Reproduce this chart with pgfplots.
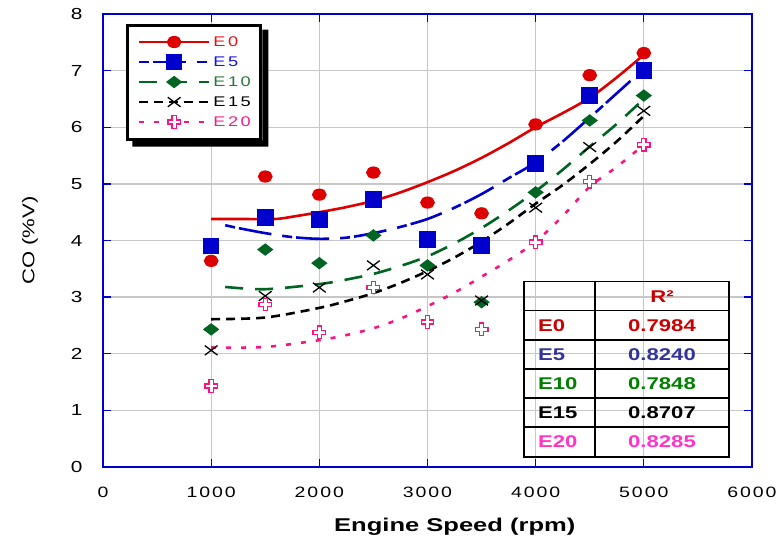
\documentclass[border=0pt]{standalone}
\usepackage{fontspec}
\setmainfont{Liberation Sans}[FakeStretch=1.3]
\newfontfamily\spaced{Liberation Sans}[FakeStretch=1.3, LetterSpace=18]
\newfontfamily\tickfont{Liberation Sans}[FakeStretch=1.3, LetterSpace=13]
\newfontfamily\labfont{Liberation Sans}[FakeStretch=1.38]
\usepackage{pgfplots}
\pgfplotsset{compat=1.18}

\definecolor{axisblue}{RGB}{0,0,204}
\definecolor{cred}{RGB}{221,0,0}
\definecolor{cblue}{RGB}{0,0,204}
\definecolor{cgreen}{RGB}{0,100,35}
\definecolor{cpink}{RGB}{250,20,130}
\definecolor{lred}{RGB}{232,20,20}
\definecolor{lblue}{RGB}{20,20,225}
\definecolor{lgreen}{RGB}{40,120,60}
\definecolor{lpink}{RGB}{240,30,140}
\definecolor{tred}{RGB}{204,0,0}
\definecolor{tblue}{RGB}{51,51,153}
\definecolor{tgreen}{RGB}{0,128,0}
\definecolor{tpink}{RGB}{255,51,204}

% outlined plus
\pgfdeclareplotmark{oplus}{%
  \pgfpathmoveto{\pgfqpoint{-0.33\pgfplotmarksize}{\pgfplotmarksize}}%
  \pgfpathlineto{\pgfqpoint{0.33\pgfplotmarksize}{\pgfplotmarksize}}%
  \pgfpathlineto{\pgfqpoint{0.33\pgfplotmarksize}{0.33\pgfplotmarksize}}%
  \pgfpathlineto{\pgfqpoint{\pgfplotmarksize}{0.33\pgfplotmarksize}}%
  \pgfpathlineto{\pgfqpoint{\pgfplotmarksize}{-0.33\pgfplotmarksize}}%
  \pgfpathlineto{\pgfqpoint{0.33\pgfplotmarksize}{-0.33\pgfplotmarksize}}%
  \pgfpathlineto{\pgfqpoint{0.33\pgfplotmarksize}{-\pgfplotmarksize}}%
  \pgfpathlineto{\pgfqpoint{-0.33\pgfplotmarksize}{-\pgfplotmarksize}}%
  \pgfpathlineto{\pgfqpoint{-0.33\pgfplotmarksize}{-0.33\pgfplotmarksize}}%
  \pgfpathlineto{\pgfqpoint{-\pgfplotmarksize}{-0.33\pgfplotmarksize}}%
  \pgfpathlineto{\pgfqpoint{-\pgfplotmarksize}{0.33\pgfplotmarksize}}%
  \pgfpathlineto{\pgfqpoint{-0.33\pgfplotmarksize}{0.33\pgfplotmarksize}}%
  \pgfpathclose
  \pgfusepathqfillstroke
}

\pgfplotsset{
  sE0/.style={cred, solid, line width=2.6bp, mark=*, mark size=6bp, mark options={yscale=0.8, solid, fill=cred}},
  sE5/.style={cblue, line width=2.6bp, dash pattern=on 10bp off 4bp on 33bp off 11bp, mark=square*, mark size=7bp, mark options={solid, fill=cblue}},
  sE10/.style={cgreen, line width=2.6bp, dash pattern=on 18bp off 12bp, mark=diamond*, mark size=4.6bp, mark options={xscale=1.75, solid, fill=cgreen}},
  sE15/.style={black, line width=2.6bp, dash pattern=on 9bp off 6bp, mark=x, mark size=9bp, mark options={yscale=0.75, solid, line width=1.3bp}},
  sE20/.style={cpink, line width=2.6bp, dash pattern=on 5bp off 10bp, mark=oplus, mark size=6.3bp, mark options={solid, line width=1.3bp, fill=white, draw=cpink}},
}

\begin{document}
\begin{tikzpicture}
\path[use as bounding box] (-103bp,-82bp) rectangle (673bp,467bp);
\begin{axis}[
  scale only axis, width=649bp, height=453bp,
  xmin=0, xmax=6000, ymin=0, ymax=8,
  xtick={0,1000,...,6000}, ytick={0,1,...,8},
  axis line style={draw=axisblue, line width=1.3bp},
  tick style={draw=axisblue, line width=1.3bp},
  major tick length=8bp,
  tick align=inside,
  grid=major, grid style={draw=black!22, line width=1.3bp},
  /pgf/number format/assume math mode=true,
  /pgf/number format/1000 sep={},
  xticklabel style={font=\tickfont\fontsize{15bp}{18bp}\selectfont, yshift=-17bp},
  yticklabel style={font=\fontsize{16bp}{19bp}\selectfont, xshift=-17bp},
  xlabel={\labfont\bfseries\fontsize{18.5bp}{22bp}\selectfont Engine Speed (rpm)},
  ylabel={\fontsize{17bp}{20bp}\selectfont CO (\%V)},
  every axis x label/.style={at={(axis description cs:0.542,-0.1325)}, anchor=center},
  every axis y label/.style={at={(axis description cs:-0.1125,0.5)}, anchor=center, rotate=90},
  legend image code/.code={\draw[mark repeat=2, mark phase=2, #1] plot coordinates {(0bp,0bp) (35bp,0bp) (70bp,0bp)};},
  legend style={name=lgd, at={(0.036,0.979)}, anchor=north west, draw=black, line width=3bp, fill=white,
    font=\spaced\fontsize{14bp}{17bp}\selectfont, inner xsep=10bp, inner ysep=7bp,
    nodes={inner xsep=0pt, inner ysep=0pt, minimum height=20bp}, row sep=0pt, column sep=3bp, cells={anchor=west}},
]
\addlegendimage{sE0}
\addlegendentry{\textcolor{lred}{E0}}
\addlegendimage{sE5}
\addlegendentry{\textcolor{lblue}{E5}}
\addlegendimage{sE10}
\addlegendentry{\textcolor{lgreen}{E10}}
\addlegendimage{sE15}
\addlegendentry{\textcolor{black}{E15}}
\addlegendimage{sE20}
\addlegendentry{\textcolor{lpink}{E20}}

% trend lines
\addplot[sE0, mark=none, smooth, forget plot] coordinates {
  (1000,4.38) (1250,4.38) (1590,4.38) (1750,4.42) (2000,4.50) (2250,4.59)
  (2500,4.70) (2750,4.85) (3000,5.03) (3250,5.23) (3500,5.46) (3750,5.72)
  (4000,6.00) (4250,6.25) (4500,6.52) (4750,6.88) (5000,7.28)};
\addplot[sE5, mark=none, smooth, forget plot] coordinates {
  (1130,4.27) (1250,4.22) (1500,4.13) (1750,4.06) (2000,4.03) (2250,4.05)
  (2500,4.13) (2750,4.24) (3000,4.38) (3250,4.58) (3500,4.82) (3750,5.10)
  (4000,5.38) (4250,5.75) (4500,6.17) (4750,6.60) (5000,7.03)};
\addplot[sE10, mark=none, smooth, forget plot] coordinates {
  (1130,3.18) (1500,3.14) (2000,3.23) (2250,3.31) (2500,3.41) (2750,3.55)
  (3000,3.72) (3250,3.95) (3500,4.22) (3750,4.53) (4000,4.87) (4250,5.25)
  (4500,5.66) (4750,6.06) (5000,6.50)};
\addplot[sE15, mark=none, smooth, forget plot] coordinates {
  (1000,2.61) (1500,2.64) (2000,2.81) (2250,2.93) (2500,3.07) (2750,3.25)
  (3000,3.46) (3250,3.70) (3500,3.98) (3750,4.30) (4000,4.65) (4250,4.98)
  (4500,5.35) (4750,5.75) (5000,6.20)};
\addplot[sE20, mark=none, smooth, forget plot] coordinates {
  (1000,2.11) (1500,2.12) (2000,2.24) (2250,2.33) (2500,2.45) (2750,2.62)
  (3000,2.84) (3250,3.08) (3500,3.36) (3750,3.65) (4000,3.98) (4250,4.43)
  (4500,4.95) (4750,5.30) (5000,5.69)};

% measured points
\addplot[sE0, only marks, forget plot] coordinates {
  (1000,3.64) (1500,5.13) (2000,4.81) (2500,5.20) (3000,4.67) (3500,4.48)
  (4000,6.05) (4500,6.92) (5000,7.31)};
\addplot[sE5, only marks, forget plot] coordinates {
  (1000,3.90) (1500,4.41) (2000,4.37) (2500,4.72) (3000,4.02) (3500,3.91)
  (4000,5.36) (4500,6.56) (5000,7.00)};
\addplot[sE10, only marks, forget plot] coordinates {
  (1000,2.43) (1500,3.84) (2000,3.60) (2500,4.09) (3000,3.56) (3500,2.91)
  (4000,4.85) (4500,6.12) (5000,6.56)};
\addplot[sE15, only marks, forget plot] coordinates {
  (1000,2.06) (1500,3.02) (2000,3.17) (2500,3.56) (3000,3.40) (3500,2.94)
  (4000,4.58) (4500,5.65) (5000,6.29)};
\addplot[sE20, only marks, forget plot] coordinates {
  (1000,1.43) (1500,2.87) (2000,2.38) (2500,3.17) (3000,2.56) (3500,2.43)
  (4000,3.97) (4500,5.04) (5000,5.69)};
\end{axis}

% legend shadow (right and bottom strips)
\fill[black] ([shift={(6bp,-6bp)}]lgd.south west) -- ([shift={(6bp,-6bp)}]lgd.south east)
  -- ([shift={(6bp,-6bp)}]lgd.north east) -- ([yshift=-6bp]lgd.north east)
  -- (lgd.south east) -- ([xshift=6bp]lgd.south west) -- cycle;

% R^2 table
\draw[line width=1.3bp] (421bp,10bp) rectangle (626bp,185.3bp);
\draw[line width=1.3bp] (492bp,10bp) -- (492bp,185.3bp);
\foreach \yy in {156.3,127,98,69,40} \draw[line width=1.3bp] (421bp,\yy bp) -- (626bp,\yy bp);
\begin{scope}[every node/.style={inner sep=0pt, font=\bfseries\fontsize{17bp}{20bp}\selectfont}]
\node[tred] at (559bp,170.8bp) {R²};
\node[tred, anchor=west] at (435bp,141.7bp) {E0};
\node[tred] at (559bp,141.7bp) {0.7984};
\node[tblue, anchor=west] at (435bp,112.5bp) {E5};
\node[tblue] at (559bp,112.5bp) {0.8240};
\node[tgreen, anchor=west] at (435bp,83.5bp) {E10};
\node[tgreen] at (559bp,83.5bp) {0.7848};
\node[black, anchor=west] at (435bp,54.5bp) {E15};
\node[black] at (559bp,54.5bp) {0.8707};
\node[tpink, anchor=west] at (435bp,25bp) {E20};
\node[tpink] at (559bp,25bp) {0.8285};
\end{scope}
\end{tikzpicture}
\end{document}
